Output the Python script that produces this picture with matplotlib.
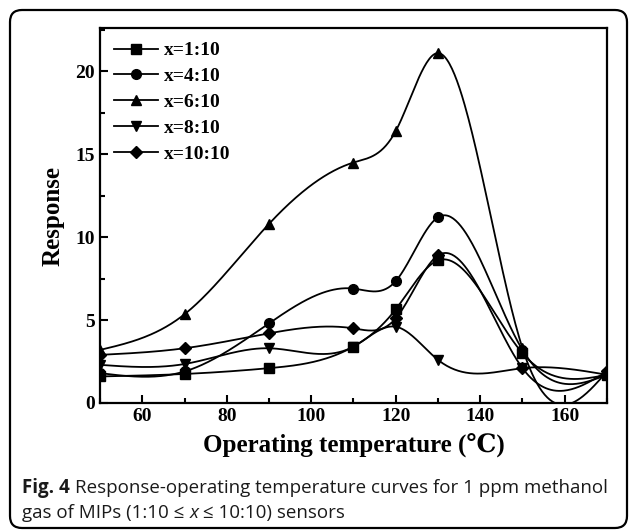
import numpy as np
import matplotlib
matplotlib.use('Agg')
from matplotlib import pyplot as plt
from matplotlib.patches import FancyBboxPatch
from matplotlib.transforms import IdentityTransform

# operating temperature (C)
temps = [50, 70, 90, 110, 120, 130, 150, 170]

# response for each ratio
r_1_10 = [1.6, 1.75, 2.1, 3.4, 5.65, 8.6, 3.0, 1.7]
r_4_10 = [1.8, 1.9, 4.8, 6.9, 7.35, 11.2, 3.2, 1.7]
r_6_10 = [3.2, 5.35, 10.8, 14.5, 16.4, 21.1, 3.3, 1.9]
r_8_10 = [2.3, 2.35, 3.3, 3.4, 4.6, 2.6, 2.1, 1.7]
r_10_10 = [2.9, 3.3, 4.2, 4.5, 5.1, 8.9, 2.1, 1.9]

labels = ['x=1:10', 'x=4:10', 'x=6:10', 'x=8:10', 'x=10:10']
markers = ['s', 'o', '^', 'v', 'D']


def spline(x, y, n=400):
    # natural cubic spline, only used to draw the smooth line
    x = np.asarray(x, float)
    y = np.asarray(y, float)
    k = len(x)
    h = np.diff(x)
    A = np.zeros((k, k))
    b = np.zeros(k)
    A[0, 0] = 1
    A[-1, -1] = 1
    for i in range(1, k - 1):
        A[i, i - 1] = h[i - 1]
        A[i, i] = 2 * (h[i - 1] + h[i])
        A[i, i + 1] = h[i]
        b[i] = 6 * ((y[i + 1] - y[i]) / h[i] - (y[i] - y[i - 1]) / h[i - 1])
    M = np.linalg.solve(A, b)
    xs = np.linspace(x[0], x[-1], n)
    j = np.clip(np.searchsorted(x, xs) - 1, 0, k - 2)
    t1 = x[j + 1] - xs
    t2 = xs - x[j]
    hj = h[j]
    ys = (M[j] * t1 ** 3 + M[j + 1] * t2 ** 3) / (6 * hj) \
        + (y[j] / hj - M[j] * hj / 6) * t1 + (y[j + 1] / hj - M[j + 1] * hj / 6) * t2
    return xs, ys


serif = ['Liberation Serif', 'DejaVu Serif']
plt.rcParams['font.family'] = serif

fig = plt.figure(figsize=(6.29, 5.32), dpi=100)
ax = fig.add_axes([0.159, 0.2425, 0.806, 0.7045])

series = [r_1_10, r_4_10, r_6_10, r_8_10, r_10_10]
for vals, lab, mk in zip(series, labels, markers):
    xs, ys = spline(temps, vals)
    ax.plot(xs, ys, color='black', lw=1.3)
    ms = 6 if mk == 'D' else 7
    ax.plot(temps, vals, linestyle='none', marker=mk, color='black', ms=ms)
    ax.plot([], [], color='black', lw=1.3, marker=mk, ms=ms, label=lab)

ax.set_xlim(50, 170)
ax.set_ylim(0, 22.6)
ax.set_xticks([60, 80, 100, 120, 140, 160])
ax.set_xticks(np.arange(50, 171, 10), minor=True)
ax.set_yticks([0, 5, 10, 15, 20])
ax.set_yticks(np.arange(0, 22.6, 2.5), minor=True)
ax.tick_params(which='both', direction='in', width=1.5, labelsize=14)
ax.tick_params(which='major', length=6)
ax.tick_params(which='minor', length=3.5)
for s in ax.spines.values():
    s.set_linewidth(1.6)
for t in ax.get_xticklabels() + ax.get_yticklabels():
    t.set_fontweight('bold')

ax.set_xlabel('Operating temperature (\u2103)', fontsize=18, fontweight='bold', labelpad=6)
ax.set_ylabel('Response', fontsize=18, fontweight='bold', labelpad=8)

leg = ax.legend(loc='upper left', frameon=False, fontsize=14, handlelength=2.3,
                labelspacing=0.42, borderaxespad=0.3, handletextpad=0.3)
for t in leg.get_texts():
    t.set_fontweight('bold')

# caption, built piece by piece
cap_font = ['Open Sans', 'DejaVu Sans']
renderer = fig.canvas.get_renderer()


def caption_line(pieces, y):
    x = 22
    for txt, style, weight in pieces:
        t = fig.text(x / 629, 1 - y / 532, txt, fontsize=13.5, family=cap_font,
                     style=style, fontweight=weight, va='center', color='#1a1a1a')
        x += t.get_window_extent(renderer).width


caption_line([('Fig. 4 ', 'normal', 'bold'),
              ('Response-operating temperature curves for 1 ppm methanol', 'normal', 'normal')], 488)
caption_line([('gas of MIPs (1:10 \u2264 ', 'normal', 'normal'),
              ('x', 'italic', 'normal'),
              (' \u2264 10:10) sensors', 'normal', 'normal')], 513)

box = FancyBboxPatch((10, 4), 617, 518, boxstyle='round,pad=0,rounding_size=12',
                     transform=IdentityTransform(), fill=False, lw=1.6, ec='black')
fig.patches.append(box)

fig.savefig('out.png', dpi=100)
